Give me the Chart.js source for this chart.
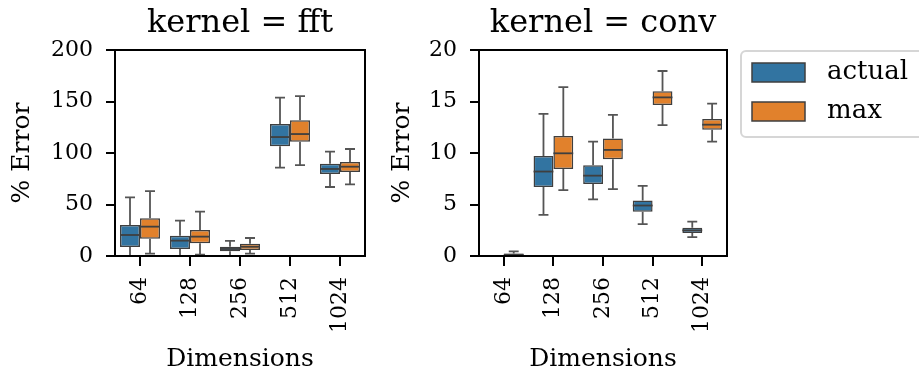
<!DOCTYPE html>
<html>
<head>
<meta charset="utf-8">
<script src="https://cdn.jsdelivr.net/npm/chart.js@4"></script>
<style>
body { margin: 0; background: #fff; }
#wrap { position: relative; width: 919px; height: 379px; }
canvas { position: absolute; top: 0; }
</style>
</head>
<body>
<div id="wrap">
  <canvas id="fftChart" width="380" height="379" style="left:0"></canvas>
  <canvas id="convChart" width="539" height="379" style="left:380px"></canvas>
</div>
<script>
const dims = ["64", "128", "256", "512", "1024"];
const seriesNames = ["actual", "max"];

// each entry: [low whisker, q1, median, q3, high whisker]
const fftActual = [[0, 8.7, 20.4, 30.1, 57], [0, 6.8, 14.9, 19.7, 34.3], [0, 4.5, 6.8, 9, 14.6], [85.8, 106.5, 115.5, 128.2, 153.7], [67, 79.5, 84.5, 89.6, 101.3]];
const fftMax = [[2.3, 16.8, 28.5, 36.6, 63], [1.3, 12.3, 18.8, 25.2, 43], [2.3, 5.8, 9, 12, 17.5], [88.3, 111, 118.4, 131.7, 155.3], [69.6, 81.5, 86.7, 91.3, 103.9]];
const convActual = [null, [4.0, 6.7, 8.2, 9.7, 13.8], [5.5, 7.0, 7.8, 8.8, 11.1], [3.1, 4.3, 4.9, 5.4, 6.8], [1.84, 2.23, 2.49, 2.75, 3.33]];
const convMax = [[0, 0.02, 0.12, 0.25, 0.45], [6.4, 8.45, 9.97, 11.65, 16.4], [6.5, 9.4, 10.3, 11.4, 13.7], [12.7, 14.66, 15.4, 16.0, 17.96], [11.1, 12.26, 12.75, 13.3, 14.8]];

const fftTicks = [0, 50, 100, 150, 200];
const convTicks = [0, 5, 10, 15, 20];

const colors = ["#3274a1", "#e1812c"];
const edgeColor = "#3f3f3f";
const FONT = "DejaVu Serif";

// whiskers, caps and median lines on top of the floating bars
const boxPlugin = {
    id: "boxes",
    afterDatasetsDraw(chart) {
        const ctx = chart.ctx;
        const y = chart.scales.y;
        chart.data.datasets.forEach((ds, i) => {
            const meta = chart.getDatasetMeta(i);
            ds.stats.forEach((s, j) => {
                if (!s) return;
                const bar = meta.data[j];
                const x = bar.x, w = bar.width;
                const [lo, q1, med, q3, hi] = s.map(v => y.getPixelForValue(v));
                ctx.save();
                ctx.strokeStyle = "#555555";
                ctx.lineWidth = 1.8;
                ctx.beginPath();
                ctx.moveTo(x, q1); ctx.lineTo(x, lo);
                ctx.moveTo(x, q3); ctx.lineTo(x, hi);
                ctx.moveTo(x - w / 4, lo); ctx.lineTo(x + w / 4, lo);
                ctx.moveTo(x - w / 4, hi); ctx.lineTo(x + w / 4, hi);
                ctx.stroke();
                ctx.strokeStyle = edgeColor;
                ctx.beginPath();
                ctx.moveTo(x - w / 2, med); ctx.lineTo(x + w / 2, med);
                ctx.stroke();
                ctx.restore();
            });
        });
    }
};

// axes frame + panel title
const framePlugin = {
    id: "frame",
    afterDraw(chart, args, opts) {
        const ctx = chart.ctx;
        const { left, top, right, bottom } = chart.chartArea;
        ctx.save();
        ctx.strokeStyle = "#000";
        ctx.lineWidth = 2;
        ctx.strokeRect(left, top, right - left, bottom - top);
        ctx.fillStyle = "#000";
        ctx.font = `32px "${FONT}"`;
        ctx.textAlign = "center";
        ctx.textBaseline = "alphabetic";
        ctx.fillText(opts.title, (left + right) / 2, 32);
        ctx.restore();
    }
};

// legend box to the right of the conv panel
const legendPlugin = {
    id: "boxLegend",
    afterDraw(chart, args, opts) {
        if (!opts.show) return;
        const ctx = chart.ctx;
        const x0 = chart.chartArea.right + 14;
        ctx.save();
        ctx.strokeStyle = "#d6d6d6";
        ctx.lineWidth = 2;
        ctx.beginPath();
        ctx.roundRect(x0, 51, 220, 86, 5);
        ctx.stroke();
        chart.data.datasets.forEach((ds, i) => {
            const yTop = 63 + i * 39;
            ctx.fillStyle = ds.backgroundColor;
            ctx.fillRect(x0 + 11, yTop, 53, 19);
            ctx.strokeStyle = edgeColor;
            ctx.lineWidth = 1.5;
            ctx.strokeRect(x0 + 11, yTop, 53, 19);
            ctx.fillStyle = "#000";
            ctx.font = `26px "${FONT}"`;
            ctx.textAlign = "left";
            ctx.textBaseline = "middle";
            ctx.fillText(ds.label, x0 + 86, yTop + 9);
        });
        ctx.restore();
    }
};

function makeDatasets(stats) {
    return stats.map((s, i) => ({
        label: seriesNames[i],
        data: s.map(v => v ? [v[1], v[3]] : null),
        stats: s,
        backgroundColor: colors[i],
        borderColor: edgeColor,
        borderWidth: 1.5,
        borderSkipped: false,
        categoryPercentage: 0.8,
        barPercentage: 1.0
    }));
}

function makeChart(id, title, stats, ticks, yWidth, padRight, legend) {
    const ctx = document.getElementById(id).getContext("2d");
    return new Chart(ctx, {
        type: "bar",
        data: { labels: dims, datasets: makeDatasets(stats) },
        plugins: [boxPlugin, framePlugin, legendPlugin],
        options: {
            responsive: false,
            animation: false,
            layout: { padding: { top: 50, right: padRight, left: 0, bottom: 0 } },
            scales: {
                x: {
                    grid: { offset: false, drawOnChartArea: false, color: "#000", lineWidth: 2, tickLength: 10 },
                    border: { display: false },
                    ticks: { color: "#000", font: { family: FONT, size: 22 }, minRotation: 90, maxRotation: 90, autoSkip: false, padding: 11 },
                    title: { display: true, text: "Dimensions", color: "#000", font: { family: FONT, size: 25 }, padding: { bottom: 5 } },
                    afterFit: scale => { scale.height = 123; }
                },
                y: {
                    min: ticks[0],
                    max: ticks[ticks.length - 1],
                    afterBuildTicks: scale => { scale.ticks = ticks.map(v => ({ value: v })); },
                    grid: { drawOnChartArea: false, color: "#000", lineWidth: 2, tickLength: 9 },
                    border: { display: false },
                    ticks: { color: "#000", font: { family: FONT, size: 22 }, padding: 13 },
                    title: { display: true, text: "% Error", color: "#000", font: { family: FONT, size: 25 }, padding: { top: 7 } },
                    afterFit: scale => { scale.width = yWidth; }
                }
            },
            plugins: {
                legend: { display: false },
                tooltip: { enabled: false },
                frame: { title: title },
                boxLegend: { show: legend }
            }
        }
    });
}

makeChart("fftChart", "kernel = fft", [fftActual, fftMax], fftTicks, 115, 15, false);
makeChart("convChart", "kernel = conv", [convActual, convMax], convTicks, 99, 192, true);
</script>
</body>
</html>
